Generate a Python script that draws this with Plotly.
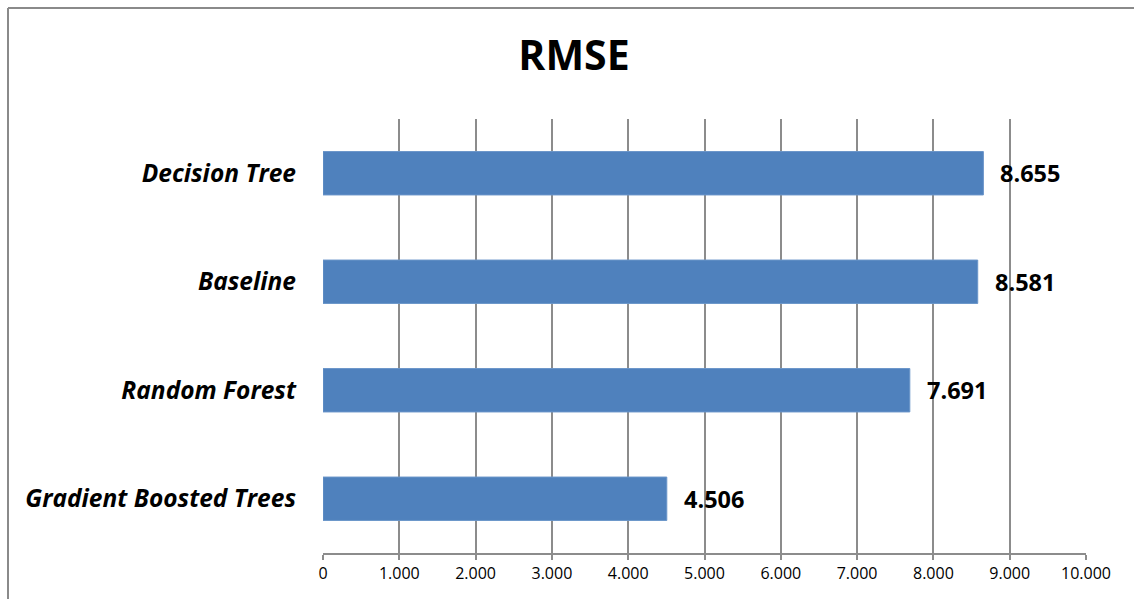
import plotly.graph_objects as go

# RMSE per model (bottom to top)
models = ["Gradient Boosted Trees", "Random Forest", "Baseline", "Decision Tree"]
rmse = [4.506, 7.691, 8.581, 8.655]

tick_vals = [0, 1, 2, 3, 4, 5, 6, 7, 8, 9, 10]
tick_text = ["0", "1.000", "2.000", "3.000", "4.000", "5.000",
             "6.000", "7.000", "8.000", "9.000", "10.000"]

W, H = 1134, 599
ML, MR, MT, MB = 323, 48, 119, 46
pw, ph = W - ML - MR, H - MT - MB

fig = go.Figure(go.Bar(
    x=rmse, y=models, orientation="h",
    marker=dict(color="#4F81BD", line=dict(color="#6a95c9", width=1)),
    width=0.4, hoverinfo="x+y",
))

for m, v in zip(models, rmse):
    fig.add_annotation(x=v, y=m, text=f"{v:.3f}", showarrow=False,
                       xanchor="left", xshift=15,
                       font=dict(family="Open Sans", size=23.5, color="black",
                                 weight="bold"))

# outer chart frame (top and left edges)
fx = (8 - ML) / pw
fy = (H - MB - 8) / ph
fig.add_shape(type="line", xref="paper", yref="paper", x0=fx, x1=1.2, y0=fy, y1=fy,
              line=dict(color="#8a8a8a", width=2))
fig.add_shape(type="line", xref="paper", yref="paper", x0=fx, x1=fx, y0=fy, y1=-0.3,
              line=dict(color="#8a8a8a", width=2))

fig.update_layout(
    width=W, height=H,
    margin=dict(l=ML, r=MR, t=MT, b=MB),
    paper_bgcolor="white", plot_bgcolor="white",
    showlegend=False,
    title=dict(text="<b>RMSE</b>", x=574 / W, xanchor="center",
               y=1 - 56 / H, yanchor="middle",
               font=dict(family="Open Sans", size=41, color="black")),
    xaxis=dict(range=[0, 10], tickvals=tick_vals, ticktext=tick_text,
               showgrid=True, gridcolor="#8c8c8c", gridwidth=1.5,
               showline=True, linecolor="#8c8c8c", linewidth=1.5,
               ticks="outside", ticklen=5, tickcolor="#8c8c8c", tickwidth=1.5,
               zeroline=False,
               tickfont=dict(family="Open Sans", size=16, color="black")),
    yaxis=dict(categoryorder="array", categoryarray=models,
               showgrid=False, showline=False, zeroline=False, ticks="",
               ticklabelstandoff=26,
               tickfont=dict(family="Open Sans", size=24.5, color="black",
                             style="italic", weight="bold")),
    bargap=0.6,
)

fig.write_html("out.html")
